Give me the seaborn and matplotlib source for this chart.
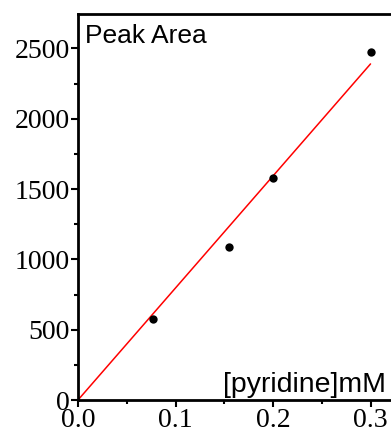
import numpy as np
import pandas as pd
import matplotlib
matplotlib.use("Agg")
import matplotlib.pyplot as plt
import seaborn as sns
from matplotlib.ticker import MultipleLocator

# data
conc = [0.077, 0.155, 0.200, 0.300]
peak_area = [575, 1090, 1582, 2478]
fit_x = [0.0, 0.300]
fit_y = [0.0, 2390.0]

sns.set_style("white")
plt.rcParams['font.family'] = ['Liberation Serif', 'DejaVu Serif']
plt.rcParams['text.color'] = 'black'
plt.rcParams['xtick.color'] = 'black'
plt.rcParams['ytick.color'] = 'black'

fig = plt.figure(figsize=(3.91, 4.34), dpi=100)
ax = fig.add_axes([78/391, 34/434, 1 - 78/391, (400-14)/434])

df = pd.DataFrame({"x": conc, "y": peak_area})
fit = pd.DataFrame({"x": fit_x, "y": fit_y})
sns.lineplot(data=fit, x="x", y="y", color="red", lw=1.1, ax=ax)
sns.scatterplot(data=df, x="x", y="y", color="black", s=36, edgecolor="black", linewidth=0, ax=ax, zorder=5)

ax.set_xlim(0, 0.321)
ax.set_ylim(0, 2745)
ax.set_xlabel("")
ax.set_ylabel("")

ax.xaxis.set_major_locator(MultipleLocator(0.1))
ax.xaxis.set_minor_locator(MultipleLocator(0.05))
ax.yaxis.set_major_locator(MultipleLocator(500))
ax.yaxis.set_minor_locator(MultipleLocator(250))
ax.xaxis.set_major_formatter(matplotlib.ticker.FormatStrFormatter('%.1f'))

for s in ["left", "bottom", "top"]:
    ax.spines[s].set_visible(True)
    ax.spines[s].set_linewidth(2)
    ax.spines[s].set_color("black")
ax.spines["right"].set_visible(False)

ax.tick_params(which="major", direction="out", length=5, width=1.5, labelsize=20,
               color="black", labelcolor="black", pad=1,
               bottom=True, left=True, top=False, right=False)
ax.tick_params(which="minor", direction="out", length=3, width=1.5, color="black",
               bottom=True, left=True, top=False, right=False)

ax.text(7/313, 0.924, "Peak Area", transform=ax.transAxes, fontsize=19, color="black",
        family=["Liberation Sans", "DejaVu Sans"], ha="left", va="baseline")
ax.text(0.984, 0.0215, "[pyridine]mM", transform=ax.transAxes, fontsize=20.5, color="black",
        family=["Liberation Sans", "DejaVu Sans"], ha="right", va="baseline")

fig.savefig("out.png", dpi=100)
